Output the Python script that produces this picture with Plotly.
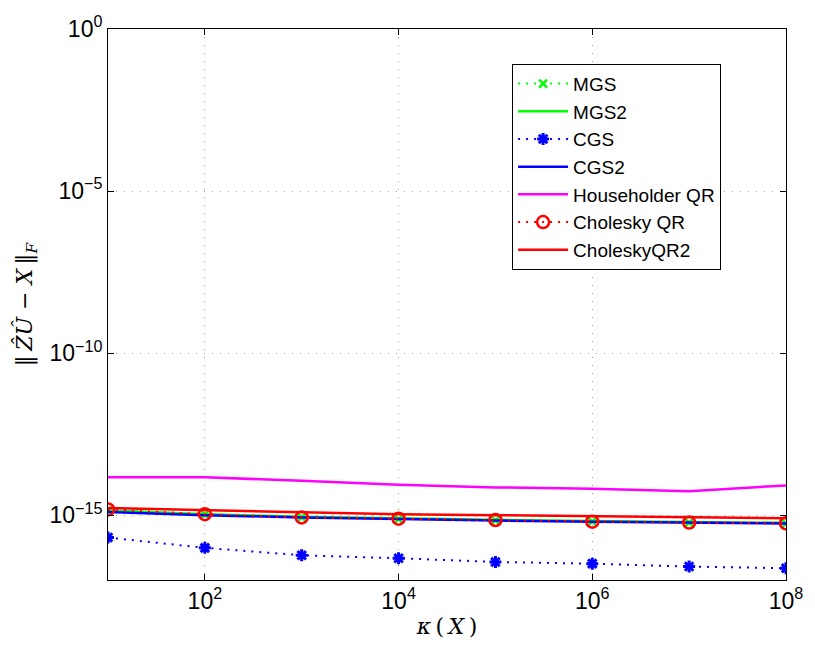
import plotly.graph_objects as go

# condition numbers kappa(X)
kappa = [1e1, 1e2, 1e3, 1e4, 1e5, 1e6, 1e7, 1e8]

# residual norms ||Z U - X||_F for each orthogonalization method
mgs = [1.38e-15, 1.05e-15, 8.5e-16, 7.6e-16, 6.9e-16, 6.3e-16, 5.9e-16, 5.5e-16]
mgs2 = [1.41e-15, 1.07e-15, 8.9e-16, 7.9e-16, 7.2e-16, 6.6e-16, 6.2e-16, 5.8e-16]
cgs = [2.04e-16, 9.8e-17, 5.8e-17, 4.7e-17, 3.6e-17, 3.2e-17, 2.6e-17, 2.3e-17]
cgs2 = [1.26e-15, 1.0e-15, 8.5e-16, 7.4e-16, 6.8e-16, 6.3e-16, 5.9e-16, 5.5e-16]
householder = [1.48e-14, 1.48e-14, 1.15e-14, 8.7e-15, 7.2e-15, 6.5e-15, 5.5e-15, 8.3e-15]
cholqr = [1.51e-15, 1.07e-15, 8.5e-16, 7.8e-16, 7.1e-16, 6.3e-16, 5.9e-16, 5.6e-16]
cholqr2 = [1.66e-15, 1.45e-15, 1.26e-15, 1.07e-15, 1.0e-15, 9.3e-16, 8.7e-16, 8.1e-16]

x_tick_vals = [1e2, 1e4, 1e6, 1e8]
x_tick_text = ["10<sup>2</sup>", "10<sup>4</sup>", "10<sup>6</sup>", "10<sup>8</sup>"]
y_tick_vals = [1e0, 1e-5, 1e-10, 1e-15]
y_tick_text = ["10<sup>0</sup>", "10<sup>−5</sup>", "10<sup>−10</sup>", "10<sup>−15</sup>"]

GREEN = "#00ff00"
BLUE = "#0000ff"
MAGENTA = "#ff00ff"
RED = "#ff0000"
SPARSE_DOT = "2px,6px"

fig = go.Figure()
fig.add_trace(go.Scatter(
    x=kappa, y=mgs, name="MGS", mode="lines+markers",
    line=dict(color=GREEN, width=2, dash=SPARSE_DOT),
    marker=dict(symbol="x-thin-open", size=8, color=GREEN, line=dict(color=GREEN, width=2.5))))
fig.add_trace(go.Scatter(
    x=kappa, y=mgs2, name="MGS2", mode="lines",
    line=dict(color=GREEN, width=2.5)))
fig.add_trace(go.Scatter(
    x=kappa, y=cgs, name="CGS", mode="lines+markers",
    line=dict(color=BLUE, width=2, dash=SPARSE_DOT),
    marker=dict(symbol="asterisk-open", size=10, color=BLUE, line=dict(color=BLUE, width=3))))
fig.add_trace(go.Scatter(
    x=kappa, y=cgs2, name="CGS2", mode="lines",
    line=dict(color=BLUE, width=2.5)))
fig.add_trace(go.Scatter(
    x=kappa, y=householder, name="Householder QR", mode="lines",
    line=dict(color=MAGENTA, width=2.5)))
fig.add_trace(go.Scatter(
    x=kappa, y=cholqr, name="Cholesky QR", mode="lines+markers",
    line=dict(color=RED, width=2, dash=SPARSE_DOT),
    marker=dict(symbol="circle-open", size=12, color=RED, line=dict(color=RED, width=2.5))))
fig.add_trace(go.Scatter(
    x=kappa, y=cholqr2, name="CholeskyQR2", mode="lines",
    line=dict(color=RED, width=2.5)))

axis_common = dict(
    showline=True, linecolor="black", linewidth=1, mirror="ticks",
    ticks="inside", ticklen=6, tickcolor="black", tickwidth=1,
    showgrid=True, gridcolor="#9a9a9a", gridwidth=1, griddash="1px,7px",
    zeroline=False,
    tickfont=dict(family="Liberation Sans, Arial, sans-serif", size=23, color="black"),
)

fig.update_xaxes(
    type="log", range=[1, 8], tickvals=x_tick_vals, ticktext=x_tick_text,
    title=dict(text="<i>κ</i>\u2009(\u2009<i>X</i>\u2009)", standoff=6,
               font=dict(family="DejaVu Serif, serif", size=22, color="black")),
    **axis_common)
fig.update_yaxes(
    type="log", range=[-17, 0], tickvals=y_tick_vals, ticktext=y_tick_text,
    title=dict(text="‖\u2009<i>Ẑ</i><i>Û</i> − <i>X</i>\u2009‖<sub><i>F</i></sub>", standoff=10,
               font=dict(family="DejaVu Serif, serif", size=22, color="black")),
    **axis_common)

fig.update_layout(
    width=815, height=652,
    margin=dict(l=108, r=21, t=24, b=72),
    paper_bgcolor="white", plot_bgcolor="white",
    showlegend=True,
    legend=dict(
        x=0.596, y=0.937, xanchor="left", yanchor="top",
        bgcolor="white", bordercolor="black", borderwidth=1,
        font=dict(family="Liberation Sans, Arial, sans-serif", size=19, color="black"),
        itemwidth=50, tracegroupgap=0,
    ),
)

fig.write_html("out.html")
